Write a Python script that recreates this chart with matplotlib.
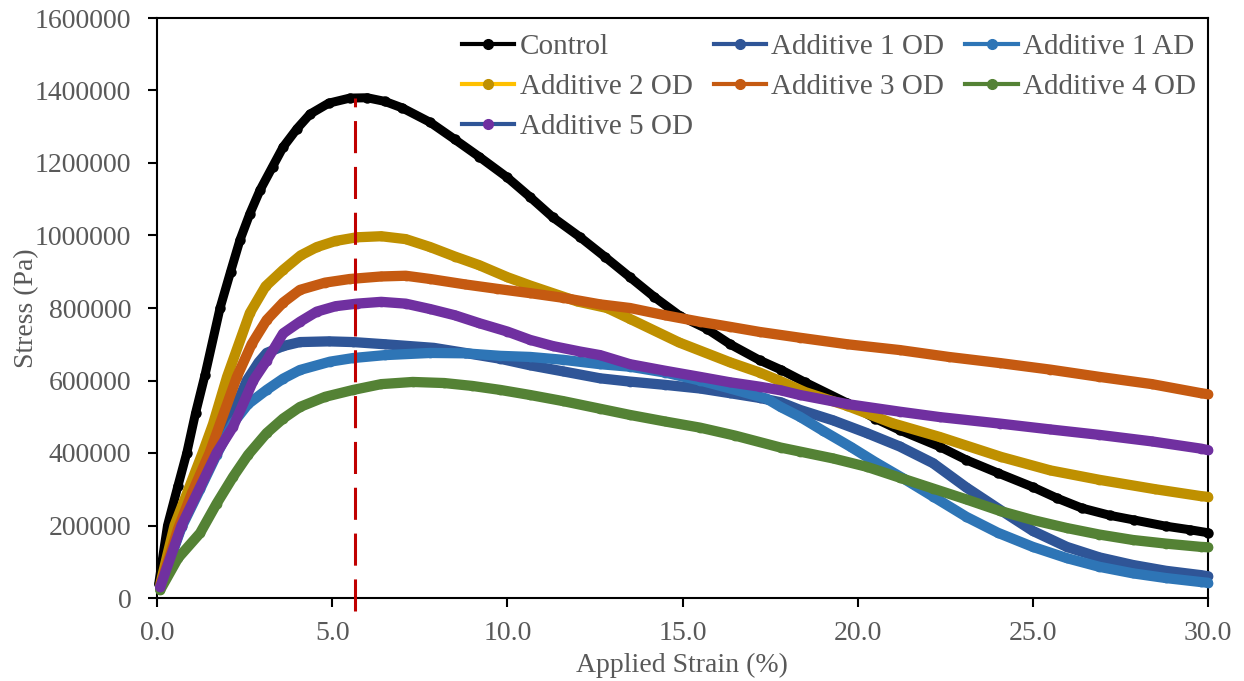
import matplotlib
matplotlib.use("Agg")
import matplotlib.pyplot as plt
from matplotlib.lines import Line2D
from matplotlib.ticker import FuncFormatter

# ---------------- data ----------------
control_x = [0.05, 0.3, 0.6, 0.85, 1.1, 1.37, 1.8, 2.1, 2.37, 2.65, 2.94, 3.3, 3.6, 4.0, 4.37, 4.9,
             5.5, 6.0, 6.5, 7.0, 7.8, 8.5, 9.2, 10.0, 10.65, 11.3, 12.07, 12.8, 13.5, 14.2, 14.93,
             15.7, 16.36, 17.2, 17.8, 18.5, 19.7, 20.5, 21.2, 22.35, 23.1, 24.0, 25.0, 25.7, 26.4,
             27.2, 27.9, 28.8, 29.5, 30.0]
control_y = [40000, 200000, 310000, 400000, 510000, 615000, 800000, 900000, 988000, 1060000, 1125000,
             1190000, 1244000, 1295000, 1335000, 1365000, 1379000, 1380000, 1370000, 1352000, 1312000,
             1265000, 1217000, 1160000, 1106000, 1050000, 996000, 940000, 885000, 830000, 778000,
             742000, 700000, 656000, 630000, 595000, 538000, 495000, 463000, 417000, 381000, 345000,
             306000, 275000, 248000, 228000, 215000, 198000, 188000, 180000]

add1od_x = [0.09, 0.7, 1.23, 1.7, 2.17, 2.57, 2.9, 3.13, 3.6, 4.08, 4.9, 5.6, 6.5, 7.9, 8.8, 9.8,
            10.65, 11.6, 12.65, 13.5, 14.5, 15.5, 16.36, 17.2, 17.8, 18.35, 19.3, 20.26, 21.2, 22.15,
            23.1, 24.07, 25.0, 25.97, 26.9, 27.86, 28.8, 29.8, 30.0]
add1od_y = [30000, 200000, 310000, 410000, 510000, 601000, 650000, 676000, 695000, 706000, 708000,
            706000, 700000, 690000, 676000, 660000, 642000, 625000, 606000, 597000, 588000, 578000,
            565000, 552000, 540000, 519000, 490000, 455000, 418000, 372000, 305000, 243000, 185000,
            141000, 112000, 91000, 75000, 63000, 60000]

add1ad_x = [0.09, 0.7, 1.23, 1.7, 2.17, 2.6, 3.13, 3.6, 4.08, 4.94, 5.6, 6.5, 7.8, 8.8, 9.8, 10.65,
            11.6, 12.65, 13.5, 14.5, 15.5, 16.36, 17.4, 17.8, 18.35, 19.0, 19.8, 20.5, 21.3, 22.15,
            23.1, 24.0, 25.0, 25.97, 26.9, 27.86, 28.8, 29.8, 30.0]
add1ad_y = [30000, 195000, 300000, 395000, 482000, 535000, 574000, 605000, 629000, 652000, 662000,
            670000, 676000, 675000, 668000, 665000, 657000, 645000, 638000, 622000, 600000, 578000,
            550000, 527000, 500000, 462000, 417000, 375000, 330000, 280000, 224000, 180000, 141000,
            110000, 86000, 68000, 55000, 44000, 42000]

add2od_x = [0.1, 0.5, 0.9, 1.3, 1.6, 2.0, 2.65, 3.1, 3.6, 4.1, 4.56, 5.1, 5.7, 6.4, 7.1, 7.8, 8.5,
            9.2, 10.0, 10.65, 12.0, 12.85, 13.5, 14.9, 16.36, 17.2, 17.8, 18.5, 19.7, 21.0, 22.35,
            24.1, 25.5, 26.9, 28.5, 29.8, 30.0]
add2od_y = [40000, 200000, 300000, 400000, 480000, 610000, 786000, 860000, 905000, 945000, 968000,
            985000, 995000, 998000, 990000, 968000, 942000, 918000, 885000, 862000, 818000, 800000,
            770000, 705000, 650000, 622000, 598000, 568000, 530000, 482000, 444000, 389000, 352000,
            326000, 300000, 281000, 279000]

add3od_x = [0.1, 0.6, 1.0, 1.5, 2.28, 2.7, 3.13, 3.6, 4.08, 4.8, 5.5, 6.4, 7.1, 7.8, 8.8, 9.7, 10.65,
            11.6, 12.65, 13.5, 14.5, 15.5, 16.36, 17.2, 18.35, 19.7, 21.2, 22.6, 24.07, 25.5, 26.9,
            28.4, 29.8, 30.0]
add3od_y = [35000, 190000, 290000, 400000, 610000, 700000, 767000, 815000, 850000, 870000, 880000,
            887000, 889000, 880000, 865000, 853000, 841000, 828000, 810000, 800000, 780000, 762000,
            748000, 734000, 718000, 700000, 684000, 665000, 648000, 630000, 610000, 590000, 565000,
            562000]

add4od_x = [0.09, 0.6, 1.23, 1.7, 2.17, 2.6, 3.13, 3.6, 4.08, 4.8, 5.6, 6.4, 7.3, 8.2, 9.0, 9.8,
            10.65, 11.6, 12.65, 13.5, 14.5, 15.5, 16.5, 17.8, 18.35, 19.3, 20.26, 21.2, 22.15, 23.1,
            24.07, 25.0, 25.97, 26.9, 27.86, 28.8, 29.8, 30.0]
add4od_y = [22000, 110000, 179000, 260000, 334000, 395000, 455000, 495000, 527000, 555000, 574000,
            590000, 596000, 593000, 585000, 574000, 560000, 543000, 522000, 505000, 487000, 470000,
            448000, 415000, 404000, 385000, 362000, 332000, 302000, 272000, 240000, 215000, 193000,
            175000, 160000, 150000, 141000, 140000]

add5od_x = [0.09, 0.7, 1.23, 1.7, 2.17, 2.75, 3.13, 3.6, 4.08, 4.56, 5.1, 5.7, 6.4, 7.1, 7.8, 8.5,
            9.2, 10.0, 10.65, 11.3, 12.07, 12.65, 13.5, 14.5, 15.5, 16.36, 17.2, 17.8, 18.35, 19.7,
            21.2, 22.35, 24.07, 25.5, 26.9, 28.4, 29.8, 30.0]
add5od_y = [30000, 200000, 306000, 400000, 472000, 600000, 655000, 730000, 762000, 790000, 805000,
            812000, 817000, 812000, 797000, 780000, 758000, 735000, 712000, 695000, 680000, 670000,
            645000, 627000, 610000, 595000, 583000, 573000, 560000, 535000, 514000, 499000, 481000,
            465000, 450000, 432000, 412000, 408000]

series_names = ["Control", "Additive 1 OD", "Additive 1 AD", "Additive 2 OD",
                "Additive 3 OD", "Additive 4 OD", "Additive 5 OD"]
peak_strain = 5.65
peak_stress = 1380000

x_ticks = [0, 5, 10, 15, 20, 25, 30]
y_ticks = [0, 200000, 400000, 600000, 800000, 1000000, 1200000, 1400000, 1600000]

# ---------------- style ----------------
marker_colors = ["#000000", "#2F5597", "#2E75B6", "#BF9000", "#C55A11", "#548235", "#7030A0"]
legend_line_colors = ["#000000", "#2F5597", "#2E75B6", "#FFC000", "#C55A11", "#548235", "#2F5597"]
TEXT = "#595959"
FONT = "Liberation Serif"
plt.rcParams["font.family"] = [FONT, "DejaVu Serif"]

fig = plt.figure(figsize=(12.44, 6.81), dpi=100)
ax = fig.add_axes([157 / 1244, 83 / 681, 1051 / 1244, 580 / 681])

all_x = [control_x, add1od_x, add1ad_x, add2od_x, add3od_x, add4od_x, add5od_x]
all_y = [control_y, add1od_y, add1ad_y, add2od_y, add3od_y, add4od_y, add5od_y]

for i, (xs, ys) in enumerate(zip(all_x, all_y)):
    lw = 6.5 if i == 0 else 7.4
    ms = 7.5 if i == 0 else 7.0
    ax.plot(xs, ys, color=marker_colors[i], lw=lw, marker="o", ms=ms,
            mfc=marker_colors[i], mec=marker_colors[i], mew=0, solid_capstyle="round",
            solid_joinstyle="round", clip_on=False, zorder=2 + i)

# red dashed vertical line at peak strain of control
ax.axvline(peak_strain, ymin=-0.022, ymax=peak_stress / 1600000, color="#C00000", lw=2.2,
           dashes=(10.5, 4.5), clip_on=False, zorder=20)

ax.set_xlim(0, 30)
ax.set_ylim(0, 1600000)
ax.set_xticks(x_ticks)
ax.set_yticks(y_ticks)
ax.xaxis.set_major_formatter(FuncFormatter(lambda v, p: f"{v:.1f}"))
ax.yaxis.set_major_formatter(FuncFormatter(lambda v, p: f"{int(v)}"))

for s in ax.spines.values():
    s.set_linewidth(1.5)
    s.set_color("#000000")
ax.tick_params(axis="both", direction="out", length=6.5, width=1.5, color="#000000",
               labelsize=20, labelcolor=TEXT)
ax.tick_params(axis="y", pad=12)
ax.tick_params(axis="x", pad=10)

ax.set_xlabel("Applied Strain (%)", fontsize=20, color=TEXT)
ax.set_ylabel("Stress (Pa)", fontsize=20, color=TEXT)
ax.xaxis.set_label_coords(0.4996, -0.094)
ax.yaxis.set_label_coords(-0.1125, 0.5)

# legend (row-major ordering like the reference)
handles = []
for i, name in enumerate(series_names):
    handles.append(Line2D([0], [0], color=legend_line_colors[i], lw=3, marker="o", ms=7,
                          mfc=marker_colors[i], mec=marker_colors[i], label=name))
order = [0, 3, 6, 1, 4, 2, 5]
leg = ax.legend([handles[k] for k in order], [series_names[k] for k in order], ncol=3,
                loc="upper left", bbox_to_anchor=(0.290, 0.973), frameon=False, fontsize=21,
                handlelength=1.8, handletextpad=0.18, columnspacing=0.72, labelspacing=0.47,
                borderpad=0.0, borderaxespad=0.0)
for t in leg.get_texts():
    t.set_color(TEXT)

fig.savefig("out.png", dpi=100)
